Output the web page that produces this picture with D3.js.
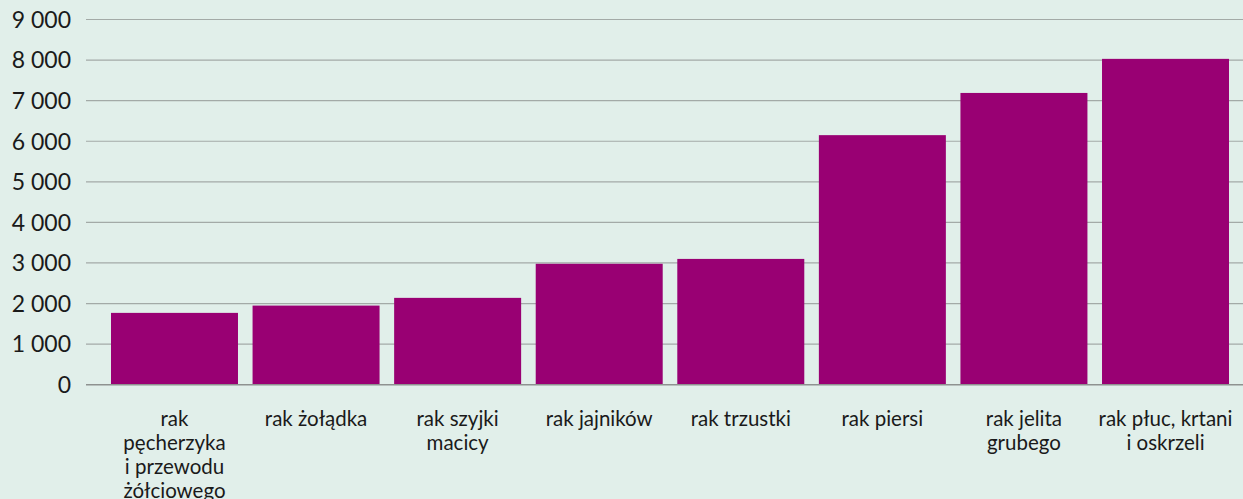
<!DOCTYPE html>
<html lang="pl">
<head>
<meta charset="utf-8">
<script src="https://cdn.jsdelivr.net/npm/d3@7"></script>
<style>
  html, body { margin: 0; padding: 0; background: #e1efea; }
  svg { display: block; }
  text { font-family: Lato, "Open Sans", sans-serif; fill: #1a1a1a; }
</style>
</head>
<body>
<svg id="chart" width="1243" height="499"></svg>
<script>
// Categories (line breaks mark where each label wraps)
const categories = [
  "rak\npęcherzyka\ni przewodu\nżółciowego",
  "rak żołądka",
  "rak szyjki\nmacicy",
  "rak jajników",
  "rak trzustki",
  "rak piersi",
  "rak jelita\ngrubego",
  "rak płuc, krtani\ni oskrzeli"
];
const values = [1770, 1950, 2140, 2980, 3100, 6150, 7190, 8030];
const yTicks = [0, 1000, 2000, 3000, 4000, 5000, 6000, 7000, 8000, 9000];

const plot = { left: 86, right: 1243, top: 19.5, bottom: 384.7 };

const svg = d3.select("#chart");

const y = d3.scaleLinear().domain([0, 9000]).range([plot.bottom, plot.top]);
const x = d3.scaleBand()
  .domain(categories)
  .range([103.7, 1236.3])
  .paddingInner(0.103)
  .paddingOuter(0.0515);

const fmt = v => d3.format(",")(v).replace(/,/g, " ");

// Horizontal gridlines
svg.append("g")
  .selectAll("line")
  .data(yTicks.filter(t => t > 0))
  .join("line")
  .attr("x1", plot.left).attr("x2", plot.right)
  .attr("y1", d => y(d)).attr("y2", d => y(d))
  .attr("stroke", "#a3aaa7")
  .attr("stroke-width", 1.2);

// Y tick labels
svg.append("g")
  .selectAll("text")
  .data(yTicks)
  .join("text")
  .attr("x", 71)
  .attr("y", d => y(d))
  .attr("dy", "0.36em")
  .attr("text-anchor", "end")
  .style("font-size", "23px")
  .text(fmt);

// Bars
svg.append("g")
  .selectAll("rect")
  .data(values)
  .join("rect")
  .attr("x", (d, i) => x(categories[i]))
  .attr("width", x.bandwidth())
  .attr("y", d => y(d))
  .attr("height", d => y(0) - y(d))
  .attr("fill", "#990073");

// Baseline
svg.append("line")
  .attr("x1", plot.left).attr("x2", plot.right)
  .attr("y1", y(0)).attr("y2", y(0))
  .attr("stroke", "#8e9290")
  .attr("stroke-width", 1.5);

// Category labels
const lab = svg.append("g")
  .selectAll("text")
  .data(categories)
  .join("text")
  .attr("text-anchor", "middle")
  .attr("x", d => x(d) + x.bandwidth() / 2)
  .attr("y", 426)
  .style("font-size", "20.5px");

lab.selectAll("tspan")
  .data(d => d.split("\n"))
  .join("tspan")
  .attr("x", function () { return d3.select(this.parentNode).attr("x"); })
  .attr("dy", (d, i) => i === 0 ? 0 : 24)
  .text(d => d);
</script>
</body>
</html>
